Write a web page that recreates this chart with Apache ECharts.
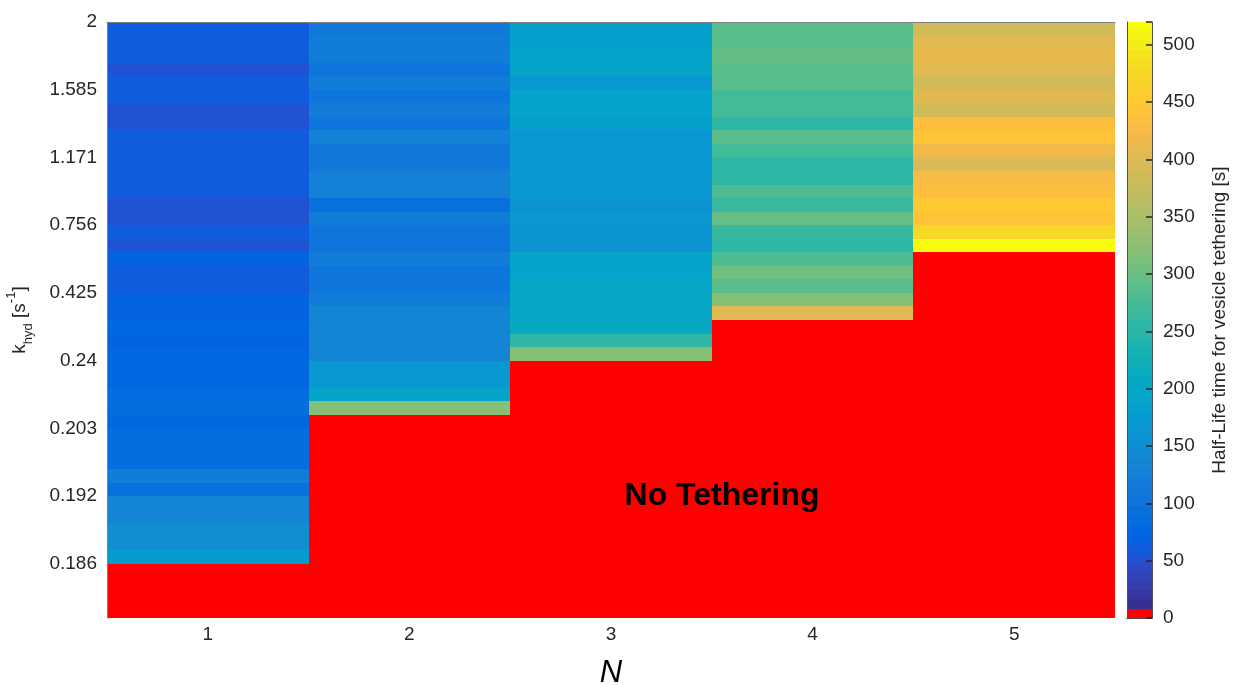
<!DOCTYPE html>
<html>
<head>
<meta charset="utf-8">
<script src="https://cdn.jsdelivr.net/npm/echarts@6/dist/echarts.min.js"></script>
<style>
html,body{margin:0;padding:0;background:#fff;}
#chart{width:1233px;height:685px;}
</style>
</head>
<body>
<div id="chart"></div>
<script>
// ---------------- data ----------------
const categories = ['1', '2', '3', '4', '5'];              // N
const yTickLabels = ['2', '1.585', '1.171', '0.756', '0.425', '0.24', '0.203', '0.192', '0.186'];
const nRows = 44;                                          // k_hyd rows (top -> bottom)
// Half-life time [s] per row (top -> bottom); 0 = no tethering
const halfLifeN1 = [61, 61, 61, 53, 61, 61, 53, 53, 61, 61, 61, 61, 61, 53, 53, 61, 53, 71, 61, 61,
                    69, 69, 77, 69, 77, 77, 77, 85, 85, 77, 85, 85, 85, 118, 93, 130, 130, 148, 148, 175,
                    0, 0, 0, 0];
const halfLifeN2 = [110, 114, 114, 101, 118, 101, 118, 101, 122, 110, 110, 122, 122, 93, 118, 105, 105, 118, 105, 105,
                    118, 130, 138, 136, 136, 163, 163, 191, 321, 0, 0, 0, 0, 0, 0, 0, 0, 0, 0, 0,
                    0, 0, 0, 0];
const halfLifeN3 = [186, 186, 191, 191, 167, 191, 191, 186, 167, 167, 167, 167, 167, 158, 167, 162, 162, 191, 191, 195,
                    203, 203, 211, 256, 321, 0, 0, 0, 0, 0, 0, 0, 0, 0, 0, 0, 0, 0, 0, 0,
                    0, 0, 0, 0];
const halfLifeN4 = [289, 289, 297, 289, 289, 272, 272, 252, 289, 272, 252, 252, 280, 264, 297, 264, 252, 280, 305, 289,
                    321, 402, 0, 0, 0, 0, 0, 0, 0, 0, 0, 0, 0, 0, 0, 0, 0, 0, 0, 0,
                    0, 0, 0, 0];
const halfLifeN5 = [386, 402, 410, 402, 386, 402, 386, 435, 441, 418, 394, 427, 435, 451, 443, 475, 516, 0, 0, 0,
                    0, 0, 0, 0, 0, 0, 0, 0, 0, 0, 0, 0, 0, 0, 0, 0, 0, 0, 0, 0,
                    0, 0, 0, 0];
const colorbarMax = 520;

// ---------------- colormap (parula 64, first entry red) ----------------
const cmap = ['#ff0000', '#363093', '#3636a0', '#353dad', '#3243ba', '#2c4ac7', '#2053d4', '#0f5cdd',
  '#0363e1', '#0268e1', '#046de0', '#0871de', '#0d75dc', '#1079da', '#127dd8', '#1481d6',
  '#1485d4', '#1389d3', '#108ed2', '#0c93d2', '#0998d1', '#079ccf', '#06a0cd', '#06a4ca',
  '#06a7c6', '#07a9c2', '#0aacbe', '#0faeb9', '#15b1b4', '#1db3af', '#25b5a9', '#2eb7a4',
  '#38b99e', '#42bb98', '#4dbc92', '#59bd8c', '#65be86', '#71bf80', '#7cbf7b', '#87bf77',
  '#92bf73', '#9cbf6f', '#a5be6b', '#aebe67', '#b7bd64', '#c0bc60', '#c8bc5d', '#d1bb59',
  '#d9ba56', '#e1b952', '#e9b94e', '#f1b94a', '#f8bb44', '#fdbe3d', '#ffc337', '#fec832',
  '#fcce2e', '#fad32a', '#f7d826', '#f5de21', '#f5e41d', '#f5eb18', '#f6f313', '#f9fb0e'];

const columns = [halfLifeN1, halfLifeN2, halfLifeN3, halfLifeN4, halfLifeN5];
const cellData = [];
columns.forEach((col, c) => col.forEach((v, r) => cellData.push([c, r, v])));

const step = colorbarMax / cmap.length;
const pieces = cmap.map((color, k) => (k === cmap.length - 1)
  ? { gte: k * step, lte: colorbarMax, color }
  : { gte: k * step, lt: (k + 1) * step, color });
const barData = cmap.map((_, k) => [0, k * step, (k + 0.5) * step, (k + 1) * step]);

const FONT = "'Liberation Sans', Arial, Helvetica, sans-serif";
const TXT = '#262626';

function pixelRect(p0, p1, w) {
  const x0 = Math.round(p0[0] - w / 2), x1 = Math.round(p0[0] + w / 2);
  const ya = Math.round(Math.min(p0[1], p1[1])), yb = Math.round(Math.max(p0[1], p1[1]));
  return { x: x0, y: ya, width: x1 - x0, height: yb - ya };
}
function renderCell(params, api) {
  const c = api.value(0), r = api.value(1);
  const p0 = api.coord([c, r]);
  const p1 = api.coord([c, r + 1]);
  const w = api.size([1, 0])[0];
  return { type: 'rect', shape: pixelRect(p0, p1, w), style: { fill: api.visual('color') } };
}
function renderBar(params, api) {
  const p0 = api.coord([0, api.value(1)]);
  const p1 = api.coord([0, api.value(3)]);
  const w = api.size([1, 0])[0];
  return { type: 'rect', shape: pixelRect(p0, p1, w), style: { fill: api.visual('color') } };
}

const chart = echarts.init(document.getElementById('chart'), null, { renderer: 'canvas' });
chart.setOption({
  animation: false,
  backgroundColor: '#ffffff',
  textStyle: { fontFamily: FONT },
  grid: [
    { left: 107, top: 22, width: 1008, height: 596, outerBoundsMode: 'none', containLabel: false },
    { left: 1127, top: 22, width: 25, height: 596, outerBoundsMode: 'none', containLabel: false }
  ],
  xAxis: [
    { type: 'category', gridIndex: 0, data: categories, z: 5,
      axisLine: { show: true, lineStyle: { color: '#808080', width: 1 } },
      axisTick: { show: false },
      axisLabel: { color: TXT, fontSize: 19, fontFamily: FONT, margin: 7 },
      name: 'N', nameLocation: 'middle', nameGap: 40,
      nameTextStyle: { color: '#000', fontSize: 31, fontStyle: 'italic', fontFamily: FONT } },
    { type: 'category', gridIndex: 1, data: [''], position: 'bottom', z: 5,
      axisLine: { show: true, lineStyle: { color: '#4d4d4d' } }, axisTick: { show: false }, axisLabel: { show: false } },
    { type: 'category', gridIndex: 1, data: [''], position: 'top', z: 5,
      axisLine: { show: true, lineStyle: { color: '#4d4d4d' } }, axisTick: { show: false }, axisLabel: { show: false } }
  ],
  yAxis: [
    { type: 'value', gridIndex: 0, min: 0, max: nRows, interval: 5, inverse: true, z: 5,
      splitLine: { show: false },
      axisLine: { show: true, lineStyle: { color: '#808080', width: 1 } },
      axisTick: { show: false },
      axisLabel: { color: TXT, fontSize: 19, fontFamily: FONT, margin: 10,
        formatter: v => (v % 5 === 0 && yTickLabels[v / 5] !== undefined) ? yTickLabels[v / 5] : '' },
      name: '{n|k}{sub|hyd}{n| [s}{sup|-1}{n|]}', nameLocation: 'middle', nameGap: 72, nameRotate: 90,
      nameTextStyle: { color: TXT, fontFamily: FONT,
        rich: {
          n: { fontSize: 19, color: TXT, fontFamily: FONT, lineHeight: 30, verticalAlign: 'middle' },
          sub: { fontSize: 13, color: TXT, fontFamily: FONT, lineHeight: 30, verticalAlign: 'bottom' },
          sup: { fontSize: 13, color: TXT, fontFamily: FONT, lineHeight: 30, verticalAlign: 'top' }
        } } },
    { type: 'value', gridIndex: 1, min: 0, max: colorbarMax, position: 'left', z: 5,
      splitLine: { show: false }, axisLine: { show: true, lineStyle: { color: '#4d4d4d' } },
      axisTick: { show: false }, axisLabel: { show: false } },
    { type: 'value', gridIndex: 1, min: 0, max: colorbarMax, interval: 50, position: 'right', z: 5,
      splitLine: { show: false },
      axisLine: { show: true, lineStyle: { color: '#4d4d4d' } },
      axisTick: { show: true, inside: true, length: 6, lineStyle: { color: '#262626', width: 1.5 } },
      axisLabel: { color: TXT, fontSize: 19, fontFamily: FONT, margin: 11,
        formatter: v => (v % 50 === 0 ? String(v) : '') },
      name: 'Half-Life time for vesicle tethering [s]', nameLocation: 'middle', nameRotate: 90, nameGap: 58,
      nameTextStyle: { color: TXT, fontSize: 19, fontFamily: FONT } }
  ],
  visualMap: {
    type: 'piecewise', show: false, dimension: 2, seriesIndex: [0, 1], pieces: pieces
  },
  series: [
    { type: 'custom', name: 'half-life', xAxisIndex: 0, yAxisIndex: 0,
      renderItem: renderCell, encode: { x: 0, y: 1 }, data: cellData, z: 2 },
    { type: 'custom', name: 'colorbar', xAxisIndex: 1, yAxisIndex: 2,
      renderItem: renderBar, encode: { x: 0, y: [1, 3] }, data: barData, z: 2 }
  ],
  graphic: [
    { type: 'text', x: 722, y: 496, z: 10,
      style: { text: 'No Tethering', fill: '#000', font: "bold 32px 'Liberation Sans', Arial, sans-serif",
        textAlign: 'center', textVerticalAlign: 'middle' } }
  ]
});
</script>
</body>
</html>
